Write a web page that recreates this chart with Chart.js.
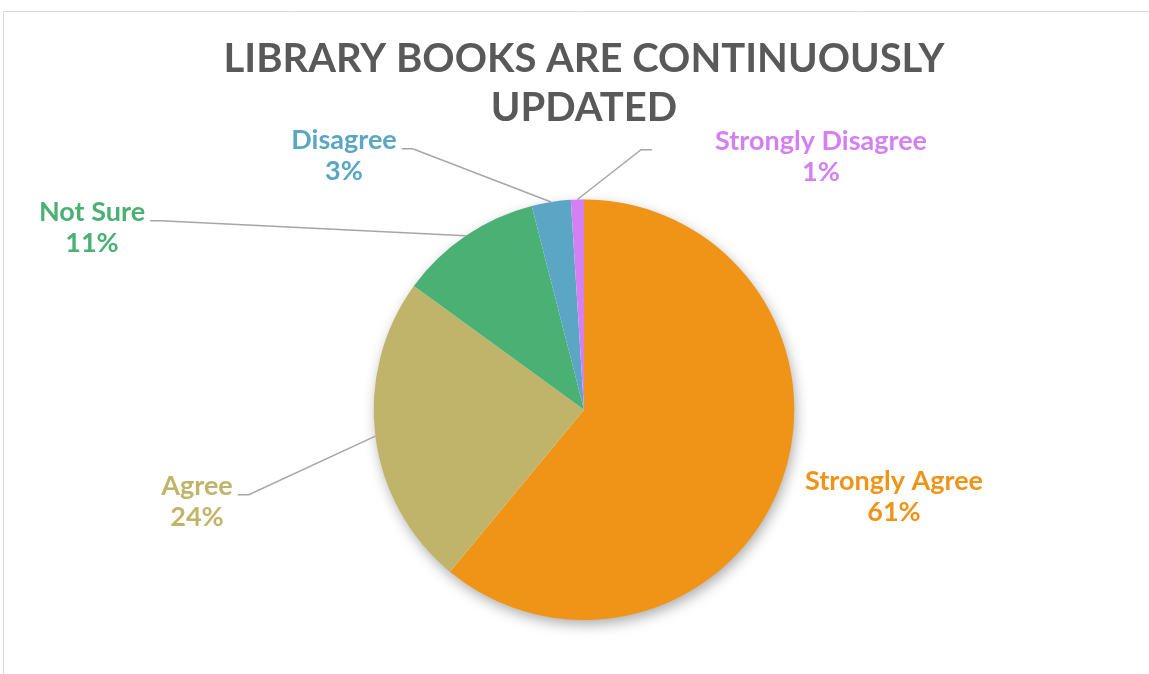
<!DOCTYPE html>
<html>
<head>
<meta charset="utf-8">
<script src="https://cdn.jsdelivr.net/npm/chart.js@4"></script>
<style>
  html, body { margin: 0; padding: 0; background: #fff; }
  #wrap { width: 1149px; height: 674px; position: relative; }
</style>
</head>
<body>
<div id="wrap"><canvas id="pieChart"></canvas></div>
<script>
const categories = ['Strongly Agree', 'Agree', 'Not Sure', 'Disagree', 'Strongly Disagree'];
const percents = [61, 24, 11, 3, 1];
const sliceColors = ['#F09418', '#C0B46A', '#4BB073', '#5BA6C4', '#D580F2'];

// where each label sits, relative to the pie centre; side = where the leader line leaves the text
const labelSpots = [
    { dx: 310, dy: 72, side: null },
    { dx: -387, dy: 77, side: 'right', gap: 5 },
    { dx: -492, dy: -197, side: 'right', gap: 5 },
    { dx: -240, dy: -269, side: 'right', gap: 5 },
    { dx: 237, dy: -268, side: 'left', gap: 63 }
];

const FONT = 'Lato, "Open Sans", sans-serif';

const framePlugin = {
    id: 'frame',
    beforeDraw(chart) {
        const c = chart.ctx;
        c.save();
        c.strokeStyle = '#D9D9D9';
        c.lineWidth = 1;
        c.beginPath();
        c.moveTo(3.5, chart.height);
        c.lineTo(3.5, 11.5);
        c.lineTo(chart.width, 11.5);
        c.stroke();
        c.restore();
    }
};

const shadowPlugin = {
    id: 'pieShadow',
    beforeDatasetsDraw(chart) {
        const arc = chart.getDatasetMeta(0).data[0];
        if (!arc) return;
        const c = chart.ctx;
        c.save();
        c.shadowColor = 'rgba(0,0,0,0.35)';
        c.shadowBlur = 14;
        c.shadowOffsetX = 2;
        c.shadowOffsetY = 5;
        c.fillStyle = '#fff';
        c.beginPath();
        c.arc(arc.x, arc.y, arc.outerRadius - 1, 0, Math.PI * 2);
        c.fill();
        c.restore();
    }
};

const labelPlugin = {
    id: 'sliceLabels',
    afterDatasetsDraw(chart) {
        const c = chart.ctx;
        const meta = chart.getDatasetMeta(0);
        c.save();
        c.font = 'bold 27px ' + FONT;
        c.textAlign = 'center';
        c.textBaseline = 'middle';
        meta.data.forEach((arc, i) => {
            const spot = labelSpots[i];
            const lx = arc.x + spot.dx;
            const ly = arc.y + spot.dy;
            const line1 = categories[i];
            const line2 = percents[i] + '%';
            if (spot.side) {
                const mid = (arc.startAngle + arc.endAngle) / 2;
                const ex = arc.x + Math.cos(mid) * arc.outerRadius;
                const ey = arc.y + Math.sin(mid) * arc.outerRadius;
                const half = c.measureText(line1).width / 2;
                const dir = spot.side === 'right' ? 1 : -1;
                const hx1 = lx + dir * (half + spot.gap);
                const hx2 = hx1 + dir * 11;
                const hy = ly + 8;
                c.strokeStyle = '#A6A6A6';
                c.lineWidth = 1.5;
                c.beginPath();
                c.moveTo(hx1, hy);
                c.lineTo(hx2, hy);
                c.lineTo(ex, ey);
                c.stroke();
            }
            c.fillStyle = sliceColors[i];
            c.fillText(line1, lx, ly);
            c.fillText(line2, lx, ly + 31);
        });
        c.restore();
    }
};

const ctx = document.getElementById('pieChart').getContext('2d');
const pieChart = new Chart(ctx, {
    type: 'pie',
    data: {
        labels: categories,
        datasets: [{
            data: percents,
            backgroundColor: sliceColors,
            borderWidth: 0
        }]
    },
    options: {
        responsive: true,
        maintainAspectRatio: false,
        animation: false,
        layout: {
            padding: { left: 19, right: 0, top: 0, bottom: 54 }
        },
        plugins: {
            legend: { display: false },
            tooltip: { enabled: false },
            title: {
                display: true,
                text: ['LIBRARY BOOKS ARE CONTINUOUSLY', 'UPDATED'],
                color: '#595959',
                font: { family: FONT, size: 40, weight: 'bold', lineHeight: 1.23 },
                padding: { top: 34, bottom: 67 }
            }
        }
    },
    plugins: [framePlugin, shadowPlugin, labelPlugin]
});
</script>
</body>
</html>
